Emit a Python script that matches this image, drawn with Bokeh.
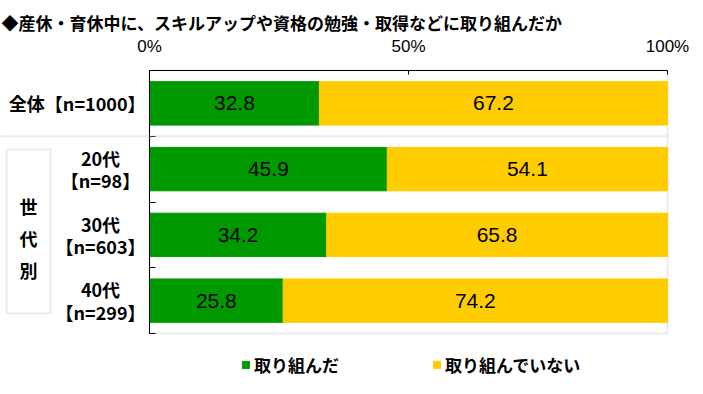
from bokeh.plotting import figure
from bokeh.models import (ColumnDataSource, Range1d, LinearAxis, FixedTicker,
                          PrintfTickFormatter, Label, BoxAnnotation, Legend, LegendItem)
from bokeh.embed import file_html
from bokeh.resources import INLINE
from bokeh.core.properties import value

# ---- data ----
title = "◆産休・育休中に、スキルアップや資格の勉強・取得などに取り組んだか"
groups = ["全体", "20代", "30代", "40代"]
sizes = [1000, 98, 603, 299]
did = [32.8, 45.9, 34.2, 25.8]
did_not = [67.2, 54.1, 65.8, 74.2]
series_names = ["取り組んだ", "取り組んでいない"]
x_ticks = [0, 50, 100]
side_label = "世代別"
colors = ["#009900", "#FFCC00"]

JP = "Noto Sans CJK JP"
NUM = "Liberation Sans"
GRAY = "#BFBFBF"

W, H = 695, 386
# pixel box of the 0-100% bar area inside the canvas
FL, FR, FT, FB = 149, 667, 70, 333
NG = len(groups)


def px2x(fx):
    return (fx - FL) / (FR - FL) * 100.0


def py2y(fy):
    return (FB - fy) / (FB - FT) * NG


# category slot positions (top to bottom)
ypos = [NG - 0.5 - i for i in range(NG)]

p = figure(width=W, height=H,
           x_range=Range1d(px2x(0), px2x(W)), y_range=Range1d(py2y(H), py2y(0)),
           output_backend="svg", toolbar_location=None,
           x_axis_location=None, y_axis_location=None, min_border=0)
p.grid.visible = False
p.outline_line_color = None
p.background_fill_color = "white"
p.border_fill_color = "white"

# plot-area border (gray right & bottom; top/left covered by the axes)
p.add_layout(BoxAnnotation(left=0, right=100, top=NG, bottom=0, fill_alpha=0,
                           line_color=GRAY, line_width=2, level="underlay"))

# axes
top_axis = LinearAxis(ticker=FixedTicker(ticks=x_ticks), fixed_location=NG, bounds=(0, 100),
                      formatter=PrintfTickFormatter(format="%d%%"),
                      major_tick_in=4, major_tick_out=0,
                      minor_tick_line_color=None,
                      major_label_standoff=15,
                      major_label_text_font=NUM,
                      major_label_text_font_size="17px",
                      major_label_text_color="black",
                      axis_line_color="black", major_tick_line_color="black")
p.add_layout(top_axis, "above")

left_axis = LinearAxis(ticker=FixedTicker(ticks=list(range(NG))), fixed_location=0,
                       bounds=(0, NG),
                       major_tick_in=6, major_tick_out=0,
                       minor_tick_line_color=None,
                       major_label_overrides={i: "" for i in range(NG)},
                       major_label_standoff=0,
                       axis_line_color="black", major_tick_line_color="black")
p.add_layout(left_axis, "left")

# separators / box
p.add_layout(BoxAnnotation(left=px2x(0), right=100, top=NG - 1, bottom=NG - 1,
                           fill_alpha=0, line_color=GRAY, line_width=2))
p.add_layout(BoxAnnotation(left=px2x(6), right=px2x(50), top=py2y(149), bottom=py2y(313),
                           fill_alpha=0, line_color=GRAY, line_width=2))

# bars
source = ColumnDataSource(dict(group=groups, y=ypos, did=did, did_not=did_not))
rs = p.hbar_stack(["did", "did_not"], y="y", height=0.66, color=colors, source=source)

# value labels
lx = [v / 2 for v in did] + [d + n / 2 for d, n in zip(did, did_not)]
ly = ypos + ypos
lt = [f"{v:.1f}" for v in did + did_not]
p.text(x=lx, y=ly, text=lt, text_align="center", text_baseline="middle",
       text_font=value(NUM), text_font_size="21px", text_color="black")

# category labels
for i, (g, n) in enumerate(zip(groups, sizes)):
    yc = ypos[i]
    if i == 0:
        p.add_layout(Label(x=px2x(145), y=yc, text=f"{g}【n={n}】",
                           text_align="right", text_baseline="middle", text_font=JP,
                           text_font_style="bold", text_font_size="18px", text_color="black"))
    else:
        for dy, t in ((0.17, g), (-0.17, f"【n={n}】")):
            p.add_layout(Label(x=px2x(100), y=yc + dy, text=t,
                               text_align="center", text_baseline="middle", text_font=JP,
                               text_font_style="bold", text_font_size="18px", text_color="black"))

for ch, fy in zip(side_label, (205, 237, 269)):
    p.add_layout(Label(x=px2x(28), y=py2y(fy), text=ch,
                       text_align="center", text_baseline="middle", text_font=JP,
                       text_font_style="bold", text_font_size="18px", text_color="black"))

# title
p.add_layout(Label(x=px2x(1), y=py2y(22), text=title,
                   text_align="left", text_baseline="middle", text_font=JP,
                   text_font_style="bold", text_font_size="17px", text_color="black"))

# legend
legend = Legend(items=[LegendItem(label=series_names[0], renderers=[rs[0]]),
                       LegendItem(label=series_names[1], renderers=[rs[1]])],
                location=(241, H - 367 - 10), orientation="horizontal",
                glyph_width=9, glyph_height=9, label_standoff=4, spacing=93,
                label_height=20, padding=0, margin=0,
                border_line_color=None, background_fill_alpha=0,
                label_text_font=JP, label_text_font_style="bold", label_text_font_size="17px",
                label_text_color="black")
p.add_layout(legend)

open("out.html", "w").write(file_html(p, INLINE))
